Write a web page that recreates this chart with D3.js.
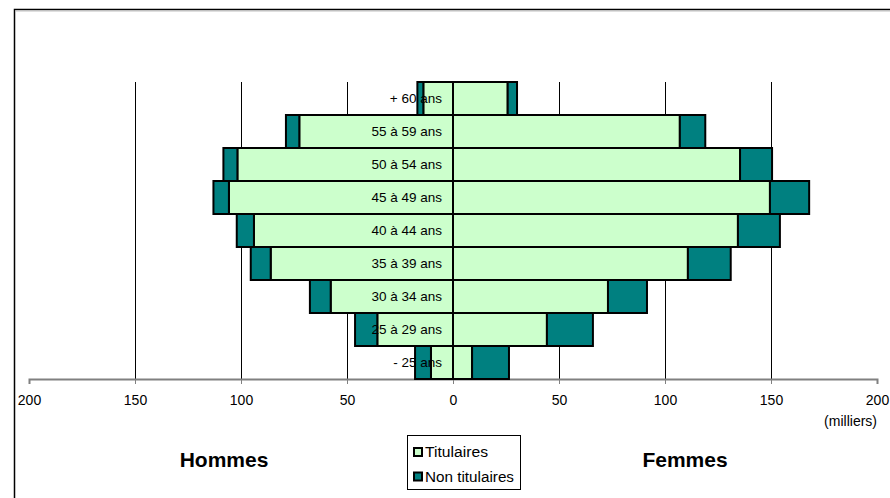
<!DOCTYPE html>
<html><head><meta charset="utf-8">
<script src="https://cdn.jsdelivr.net/npm/d3@7"></script>
<style>body{margin:0;background:#fff}svg{display:block;font-family:"Liberation Sans",Arial,sans-serif}</style>
</head><body><svg id="c" width="890" height="498"></svg>
<script>
const categories = ["+ 60 ans","55 à 59 ans","50 à 54 ans","45 à 49 ans","40 à 44 ans","35 à 39 ans","30 à 34 ans","25 à 29 ans","- 25 ans"];
const hommesTitulaires = [14, 72.5, 101.7, 105.7, 93.9, 86, 57.7, 35.7, 10.4];
const hommesNonTitulaires = [2.8, 6.3, 6.6, 7.3, 8.1, 9.4, 9.8, 10.5, 7.5];
const femmesTitulaires = [25.8, 107, 135.4, 149.5, 134.4, 110.8, 73.1, 44.3, 9];
const femmesNonTitulaires = [4.4, 12, 15.1, 18.5, 19.8, 20.2, 18.4, 21.7, 17.4];
const tickValues = [-200,-150,-100,-50,0,50,100,150,200];
const colTit = "#ccffcc", colNon = "#008080";

const svg = d3.select("#c");
const x = d3.scaleLinear().domain([-200,200]).range([29,877]);
const y = d3.scaleBand().domain(categories).range([82,379]).padding(0);

// outer border (left + top)
svg.append("path").attr("d","M14.5,498 L14.5,9.5 L890,9.5").attr("fill","none").attr("stroke","#000").attr("stroke-width",1.5);
svg.append("line").attr("x1",15).attr("x2",890).attr("y1",11).attr("y2",11).attr("stroke","#c0c0c0").attr("stroke-width",1);

// gridlines
svg.append("g").selectAll("line").data(tickValues.filter(d=>d!==0 && Math.abs(d)!==200)).join("line")
  .attr("x1",d=>x(d)+0.5).attr("x2",d=>x(d)+0.5).attr("y1",82).attr("y2",379)
  .attr("stroke","#000").attr("stroke-width",1);

// axis
const axis = d3.axisBottom(x).tickValues(tickValues).tickSize(5).tickFormat(d=>Math.abs(d));
const ga = svg.append("g").attr("transform","translate(0,379)").call(axis);
ga.select(".domain").attr("stroke","#808080").attr("stroke-width",2);
ga.selectAll(".tick line").attr("stroke","#808080");
ga.selectAll(".tick text").attr("fill","#000").attr("font-size",14).attr("font-family","Liberation Sans, Arial, sans-serif").attr("y",16).attr("dy","0.71em");

const data = categories.map((c,i)=>({c,ht:hommesTitulaires[i],hn:hommesNonTitulaires[i],ft:femmesTitulaires[i],fn:femmesNonTitulaires[i]}));
const gb = svg.append("g").attr("stroke","#000").attr("stroke-width",2);
// Hommes
gb.selectAll(".ht").data(data).join("rect").attr("fill",colTit)
  .attr("x",d=>x(-d.ht)).attr("width",d=>x(0)-x(-d.ht)).attr("y",d=>y(d.c)).attr("height",y.bandwidth());
gb.selectAll(".hn").data(data).join("rect").attr("fill",colNon)
  .attr("x",d=>x(-d.ht-d.hn)).attr("width",d=>x(-d.ht)-x(-d.ht-d.hn)).attr("y",d=>y(d.c)).attr("height",y.bandwidth());
// Femmes
gb.selectAll(".ft").data(data).join("rect").attr("fill",colTit)
  .attr("x",x(0)).attr("width",d=>x(d.ft)-x(0)).attr("y",d=>y(d.c)).attr("height",y.bandwidth());
gb.selectAll(".fn").data(data).join("rect").attr("fill",colNon)
  .attr("x",d=>x(d.ft)).attr("width",d=>x(d.ft+d.fn)-x(d.ft)).attr("y",d=>y(d.c)).attr("height",y.bandwidth());

// category labels
svg.append("g").selectAll("text").data(categories).join("text")
  .attr("x",442).attr("y",d=>y(d)+y.bandwidth()/2).attr("dy","0.36em")
  .attr("text-anchor","end").attr("font-size",13.5).attr("fill","#000").text(d=>d);

svg.append("text").attr("x",877).attr("y",421).attr("dy","0.36em").attr("text-anchor","end").attr("font-size",14).text("(milliers)");
svg.append("text").attr("x",224).attr("y",459).attr("dy","0.36em").attr("text-anchor","middle").attr("font-size",21).attr("font-weight","bold").text("Hommes");
svg.append("text").attr("x",685).attr("y",459).attr("dy","0.36em").attr("text-anchor","middle").attr("font-size",21).attr("font-weight","bold").text("Femmes");

// legend
const lg = svg.append("g");
lg.append("rect").attr("x",407.5).attr("y",435.5).attr("width",113).attr("height",54).attr("fill","#fff").attr("stroke","#000").attr("stroke-width",1);
const legendItems = [["Titulaires",colTit],["Non titulaires",colNon]];
legendItems.forEach(([t,c],i)=>{
  const cy = 452 + i*24.5;
  lg.append("rect").attr("x",414).attr("y",cy-4).attr("width",8).attr("height",8).attr("fill",c).attr("stroke","#000").attr("stroke-width",2);
  lg.append("text").attr("x",425).attr("y",cy).attr("dy","0.36em").attr("font-size",14).attr("textLength",t.length>10?89:63).attr("lengthAdjust","spacingAndGlyphs").text(t);
});
</script></body></html>
